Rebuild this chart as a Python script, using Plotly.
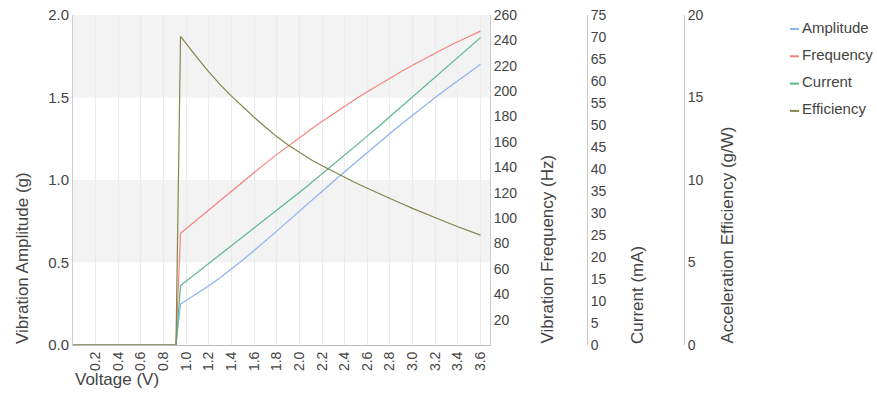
import plotly.graph_objects as go

# ---------------- data ----------------
voltage = [0.0, 0.2, 0.4, 0.6, 0.8, 0.91, 0.95, 1.0, 1.1, 1.2, 1.3, 1.4, 1.5, 1.6, 1.7,
           1.8, 1.9, 2.0, 2.1, 2.2, 2.3, 2.4, 2.5, 2.6, 2.7, 2.8, 2.9, 3.0, 3.1, 3.2,
           3.3, 3.4, 3.5, 3.6]
amplitude = [0, 0, 0, 0, 0, 0, 0.248, 0.27, 0.313, 0.359, 0.408, 0.46, 0.515, 0.573, 0.63,
             0.69, 0.751, 0.812, 0.872, 0.932, 0.991, 1.05, 1.109, 1.167, 1.225, 1.282,
             1.338, 1.393, 1.447, 1.50, 1.552, 1.603, 1.653, 1.702]
frequency = [0, 0, 0, 0, 0, 0, 88, 91.7, 99.2, 106.7, 114.15, 121.55, 128.85, 136.05, 143.1,
             150.0, 156.75, 163.35, 169.8, 176.1, 182.2, 188.15, 193.95, 199.55, 205.0, 210.3,
             215.45, 220.45, 225.3, 230.0, 234.55, 238.95, 243.2, 247.3]
current = [0, 0, 0, 0, 0, 0, 13.5, 14.5, 16.5, 18.5, 20.5, 22.5, 24.5, 26.51, 28.53,
           30.56, 32.61, 34.68, 36.77, 38.87, 40.99, 43.13, 45.29, 47.47, 49.67, 51.89,
           54.13, 56.39, 58.6, 60.85, 63.1, 65.35, 67.6, 69.85]
efficiency = [0, 0, 0, 0, 0, 0, 18.7, 18.25, 17.38, 16.55, 15.78, 15.08, 14.42, 13.8, 13.2,
              12.63, 12.12, 11.66, 11.24, 10.86, 10.5, 10.15, 9.82, 9.5, 9.18, 8.88,
              8.58, 8.28, 7.99, 7.71, 7.44, 7.17, 6.91, 6.66]

series_names = ["Amplitude", "Frequency", "Current", "Efficiency"]
x_ticks = [0.2, 0.4, 0.6, 0.8, 1.0, 1.2, 1.4, 1.6, 1.8, 2.0, 2.2, 2.4, 2.6, 2.8,
           3.0, 3.2, 3.4, 3.6]
amp_ticks = [0.0, 0.5, 1.0, 1.5, 2.0]
freq_ticks = [20, 40, 60, 80, 100, 120, 140, 160, 180, 200, 220, 240, 260]
cur_ticks = [0, 5, 10, 15, 20, 25, 30, 35, 40, 45, 50, 55, 60, 65, 70, 75]
eff_ticks = [0, 5, 10, 15, 20]
titles = {
    "x": "Voltage (V)",
    "y1": "Vibration Amplitude (g)",
    "y2": "Vibration Frequency (Hz)",
    "y3": "Current (mA)",
    "y4": "Acceleration Efficiency (g/W)",
}

# ---------------- style ----------------
W, H = 877, 405
ML, MR, MT, MB = 73, 0, 15, 60
PW = W - ML - MR
PH = H - MT - MB


def px_x(p):
    return (p - ML) / PW


def px_y(p):
    return (H - MB - p) / PH


colors = ["#88b3f6", "#f4857c", "#5ab789", "#85854a"]
FONT = "Arial, 'Liberation Sans', sans-serif"
TXT = "#444444"
AXLINE = "#cccccc"
GRID = "#ebebeb"

x_end = px_x(490)

fig = go.Figure()
ydata = [amplitude, frequency, current, efficiency]
yrefs = ["y", "y2", "y3", "y4"]
for name, ys, c, yr in zip(series_names, ydata, colors, yrefs):
    fig.add_trace(go.Scatter(x=voltage, y=ys, name=name, mode="lines",
                             line=dict(color=c, width=1.2), yaxis=yr,
                             showlegend=False))

tickfont = dict(family=FONT, size=15, color=TXT)
xtickfont = dict(family=FONT, size=14, color=TXT)
rtickfont = dict(family=FONT, size=14, color=TXT)

fig.update_layout(
    width=W, height=H,
    margin=dict(l=ML, r=MR, t=MT, b=MB, pad=0),
    paper_bgcolor="white", plot_bgcolor="white",
    font=dict(family=FONT, color=TXT),
    xaxis=dict(domain=[0, x_end], range=[0, 3.684], tickvals=x_ticks,
               tickformat=".1f", tickangle=-90, tickfont=xtickfont,
               showgrid=True, gridcolor=GRID, gridwidth=1,
               showline=True, linecolor="#bbbbbb", linewidth=1,
               zeroline=False, ticks="", ticklen=0),
    yaxis=dict(range=[0, 2], tickvals=amp_ticks, tickformat=".1f",
               tickfont=tickfont, showgrid=False, zeroline=False,
               showline=True, linecolor=AXLINE, ticks="", ticklen=0),
    yaxis2=dict(range=[0, 260], tickvals=freq_ticks, overlaying="y", side="right",
                anchor="x", tickfont=rtickfont, showgrid=False, zeroline=False,
                showline=True, linecolor=AXLINE, ticks="", ticklen=0),
    yaxis3=dict(range=[0, 75], tickvals=cur_ticks, overlaying="y", side="right",
                anchor="free", position=px_x(587), tickfont=rtickfont,
                showgrid=False, zeroline=False, showline=True, linecolor=AXLINE,
                ticks="", ticklen=0),
    yaxis4=dict(range=[0, 20], tickvals=eff_ticks, overlaying="y", side="right",
                anchor="free", position=px_x(684), tickfont=rtickfont,
                showgrid=False, zeroline=False, showline=True, linecolor=AXLINE,
                ticks="", ticklen=0),
)

# alternating background bands on the amplitude axis
for lo, hi in [(0.5, 1.0), (1.5, 2.0)]:
    fig.add_shape(type="rect", xref="paper", yref="y", x0=0, x1=x_end, y0=lo, y1=hi,
                  fillcolor="#f3f3f3", line=dict(width=0), layer="below")

title_font = dict(family=FONT, size=17, color=TXT)
# axis titles (bottom aligned like the reference)
for key, cx in [("y1", 22), ("y2", 547), ("y3", 637), ("y4", 727)]:
    fig.add_annotation(text=titles[key], xref="paper", yref="paper", x=px_x(cx), y=0,
                       xanchor="center", yanchor="bottom", textangle=-90,
                       showarrow=False, font=title_font, borderpad=0)
fig.add_annotation(text=titles["x"], xref="paper", yref="paper", x=px_x(74), y=px_y(380),
                   xanchor="left", yanchor="middle", showarrow=False, font=title_font,
                   borderpad=0)

# legend
leg_font = dict(family=FONT, size=15, color=TXT)
for i, (name, c) in enumerate(zip(series_names, colors)):
    yc = 27 + 27.3 * i
    fig.add_shape(type="line", xref="paper", yref="paper", x0=px_x(790), x1=px_x(799),
                  y0=px_y(yc + 2), y1=px_y(yc + 2), line=dict(color=c, width=2))
    fig.add_annotation(text=name, xref="paper", yref="paper", x=px_x(801), y=px_y(yc),
                       xanchor="left", yanchor="middle", showarrow=False, font=leg_font,
                       borderpad=0)

fig.write_html("out.html", config={"displayModeBar": False},
               post_script="document.body.style.margin='0';")
